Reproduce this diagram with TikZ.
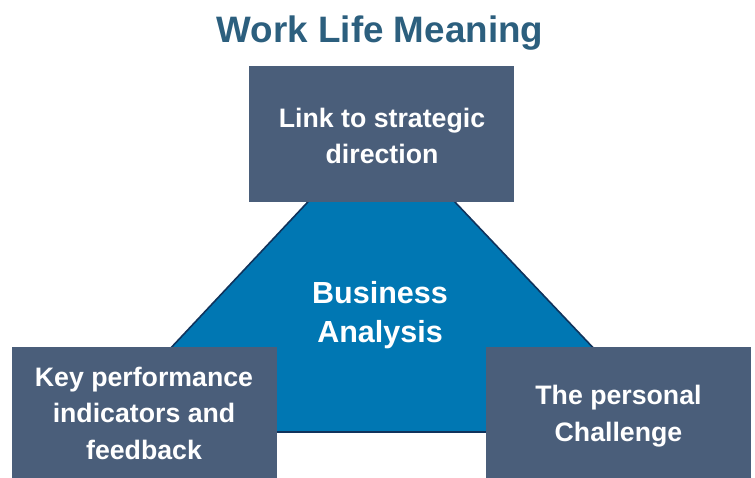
\documentclass[tikz,border=0pt]{standalone}
\usepackage{fontspec}
\setmainfont{Liberation Sans}
\begin{document}
\begin{tikzpicture}[x=1pt,y=-1pt,
  boxtext/.style={text=white,font=\bfseries\fontsize{26.7}{36.5}\selectfont,align=center},
  panel/.style={fill=panelblue,draw=none}]
\definecolor{panelblue}{HTML}{4A5E7A}
\definecolor{coreblue}{HTML}{0077B3}
\definecolor{coreedge}{HTML}{10335C}
\definecolor{titleblue}{HTML}{2C5F7E}
\useasboundingbox (0,0) rectangle (755,478);
% central triangle
\coordinate (apex) at (381,124);
\coordinate (bl) at (92,432);
\coordinate (br) at (673,432);
\fill[coreblue] (apex) -- (br) -- (bl) -- cycle;
\draw[coreedge,line width=1.6pt,line join=miter] (apex) -- (br) -- (bl) -- cycle;
\node[boxtext,font=\bfseries\fontsize{30.5}{39}\selectfont] (core) at (380,315) {Business\\Analysis};
% title
\node[text=titleblue,font=\bfseries\fontsize{36.8}{40}\selectfont] (title) at (380,33) {Work Life Meaning};
% three panels
\fill[panel] (249,66) rectangle (514,202);
\node[boxtext] (top) at (382,136) {Link to strategic\\direction};
\fill[panel] (12,347) rectangle (277,478);
\node[boxtext] (left) at (144,413) {Key performance\\indicators and\\feedback};
\fill[panel] (486,347) rectangle (751,478);
\node[boxtext] (right) at (618.5,416) {The personal\\Challenge};
\end{tikzpicture}
\end{document}
